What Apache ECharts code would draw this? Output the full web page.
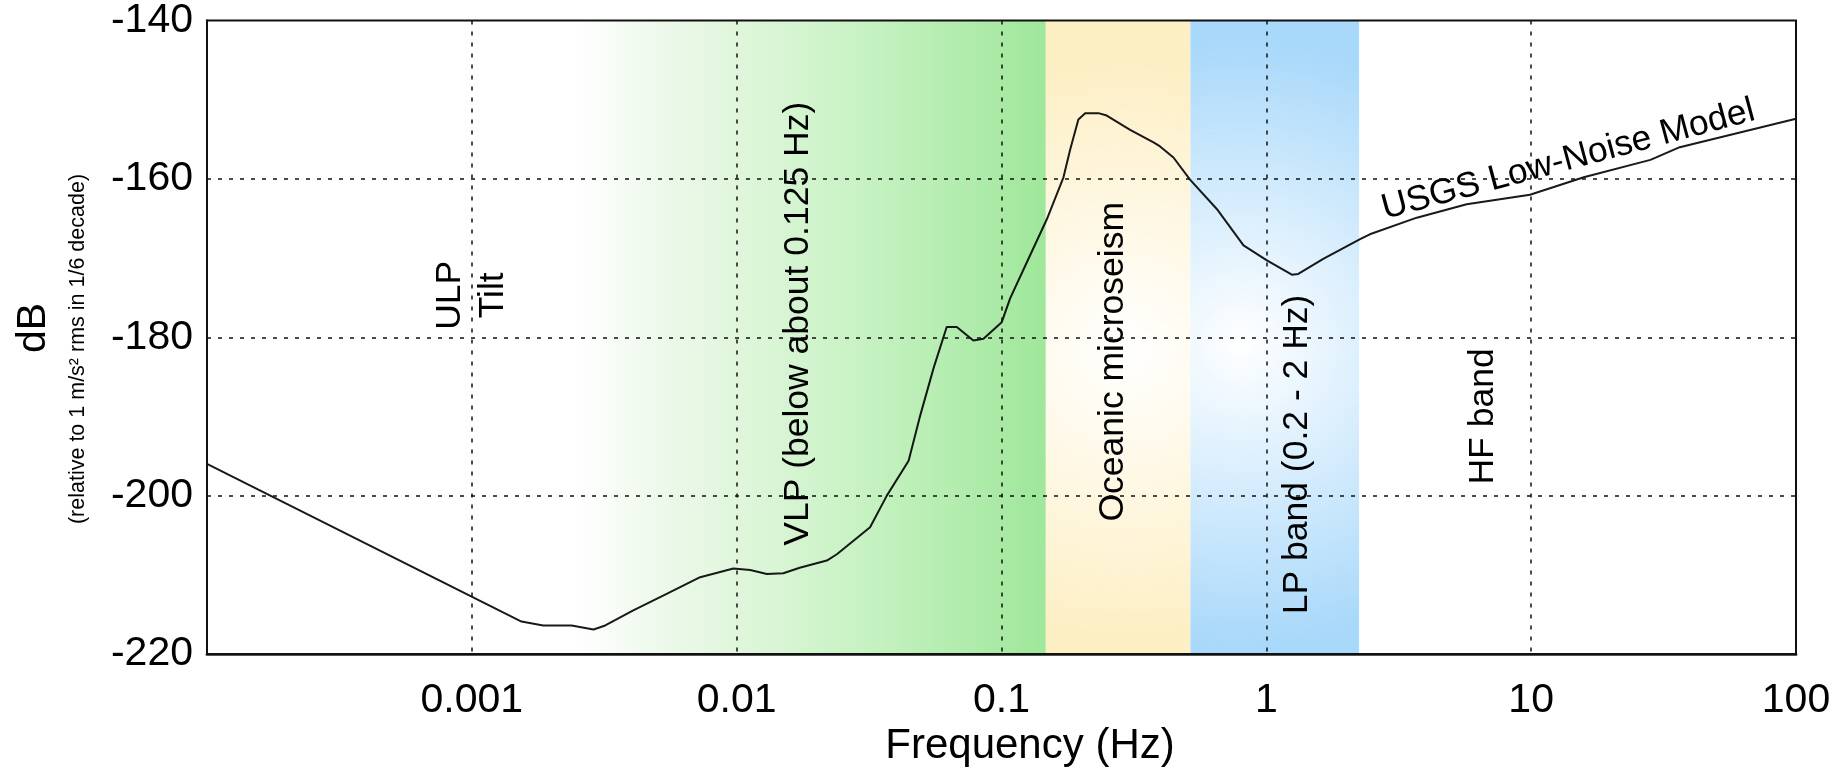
<!DOCTYPE html>
<html>
<head>
<meta charset="utf-8">
<script src="https://cdn.jsdelivr.net/npm/echarts@6/dist/echarts.min.js"></script>
<style>
html,body{margin:0;padding:0;background:#fff;}
#chart{width:1841px;height:771px;}
</style>
</head>
<body>
<div id="chart"></div>
<script>
// ---- data (USGS Low-Noise Model) ----
const freqHz = [0.0001, 0.00154, 0.00186, 0.00238, 0.00288, 0.00319, 0.00407, 0.00544, 0.00728, 0.00972,
  0.01125, 0.0130, 0.0150, 0.0173, 0.0219, 0.0239, 0.0319, 0.0369, 0.0446, 0.0494,
  0.0554, 0.0621, 0.0678, 0.0783, 0.0855, 0.1002, 0.1078, 0.1248, 0.1483, 0.1714,
  0.1817, 0.1951, 0.207, 0.2323, 0.2497, 0.306, 0.375, 0.397, 0.446, 0.515,
  0.650, 0.820, 1.005, 1.248, 1.32, 1.64, 2.26, 2.46, 3.70, 5.71,
  9.9, 15.8, 28.2, 36.4, 100];
const noiseDb = [-196.0, -215.9, -216.4, -216.4, -216.9, -216.4, -214.5, -212.4, -210.3, -209.2,
  -209.4, -209.9, -209.8, -209.1, -208.2, -207.4, -204.0, -200.0, -195.6, -189.8,
  -183.9, -178.7, -178.7, -180.4, -180.2, -178.1, -175.1, -170.5, -165.1, -159.8,
  -156.3, -152.5, -151.7, -151.7, -152.0, -153.8, -155.4, -155.9, -157.3, -160.1,
  -163.8, -168.4, -170.3, -172.1, -172.0, -170.1, -167.6, -167.0, -164.9, -163.2,
  -162.0, -159.8, -157.6, -156.0, -152.4];

const xTickLabels = ['0.001', '0.01', '0.1', '1', '10', '100'];
const yTickValues = [-220, -200, -180, -160, -140];

const bandNames = ['VLP', 'Oceanic microseism', 'LP band'];
const bandStartHz = [0.0025, 0.147, 0.517];
const bandEndHz = [0.147, 0.517, 2.24];

const noteTexts = ['ULP\nTilt', 'VLP (below about 0.125 Hz)', 'Oceanic microseism',
  'LP band (0.2 - 2 Hz)', 'HF band', 'USGS Low-Noise Model'];
const noteFreqHz = [0.001, 0.01706, 0.2636, 1.307, 6.59, 13.8];
const noteDb = [-174.7, -178.3, -183.1, -194.8, -190.0, -157.6];

// ---- styling ----
const FONT = '"Liberation Sans", Arial, Helvetica, sans-serif';
const bandFills = [
  new echarts.graphic.LinearGradient(0, 0, 1, 0, [
    {offset: 0, color: '#ffffff'},
    {offset: 0.17, color: '#eef9ec'},
    {offset: 0.34, color: '#e0f6dc'},
    {offset: 0.60, color: '#c8f2c4'},
    {offset: 0.82, color: '#b2ecad'},
    {offset: 1, color: '#9fe79a'}
  ]),
  new echarts.graphic.RadialGradient(0.56, 0.52, 2.0, [
    {offset: 0, color: '#ffffff'},
    {offset: 1, color: '#fdefc4'}
  ]),
  new echarts.graphic.RadialGradient(0.3, 0.51, 1.8, [
    {offset: 0, color: '#ffffff'},
    {offset: 1, color: '#a8d8fa'}
  ])
];

function fmtTick(v) {
  if (v < 0.00099) return '';
  const s = String(Number(v.toPrecision(6)));
  return xTickLabels.indexOf(s) >= 0 ? s : '';
}

const chart = echarts.init(document.getElementById('chart'), null, {renderer: 'canvas'});
chart.setOption({
  animation: false,
  backgroundColor: '#ffffff',
  grid: {
    left: 207, right: 45, top: 16, bottom: 117,
    show: true, borderColor: '#111', borderWidth: 2,
    backgroundColor: 'transparent', z: 6
  },
  xAxis: {
    type: 'log', logBase: 10, min: 0.0001, max: 100, z: 5,
    axisLine: {show: true, onZero: false, lineStyle: {color: '#555', width: 3}},
    axisTick: {show: false},
    axisLabel: {fontSize: 41, color: '#000', fontFamily: FONT, margin: 26, formatter: fmtTick},
    splitLine: {show: true, showMinLine: false, showMaxLine: false,
      lineStyle: {color: '#111', type: [4, 7], width: 1.5}}
  },
  yAxis: {
    type: 'value', min: yTickValues[0], max: yTickValues[yTickValues.length - 1], interval: 20, z: 5,
    axisLine: {show: true, onZero: false, lineStyle: {color: '#111', width: 2}},
    axisTick: {show: false},
    axisLabel: {fontSize: 41, color: '#000', fontFamily: FONT, margin: 14},
    splitLine: {show: true, showMinLine: false, showMaxLine: false,
      lineStyle: {color: '#111', type: [4, 7], width: 1.5}}
  },
  graphic: [
    {type: 'text', x: 34, y: 328, rotation: Math.PI / 2,
      style: {text: 'dB', fontSize: 41, fontFamily: FONT, fill: '#000', align: 'center', verticalAlign: 'middle'}},
    {type: 'text', x: 78, y: 349, rotation: Math.PI / 2,
      style: {text: '(relative to 1 m/s² rms in 1/6 decade)', fontSize: 21.5, fontFamily: FONT, fill: '#000', align: 'center', verticalAlign: 'middle'}},
    {type: 'text', x: 1030, y: 746,
      style: {text: 'Frequency (Hz)', fontSize: 42, fontFamily: FONT, fill: '#000', align: 'center', verticalAlign: 'middle'}}
  ],
  series: [
    {
      name: 'USGS Low-Noise Model',
      type: 'line',
      data: freqHz.map((f, i) => [f, noiseDb[i]]),
      showSymbol: false,
      symbol: 'none',
      z: 3,
      lineStyle: {color: '#000', width: 2, opacity: 0.9},
      markArea: {
        silent: true,
        z: 1,
        label: {show: false},
        data: bandNames.map((n, i) => [
          {name: n, xAxis: bandStartHz[i], itemStyle: {color: bandFills[i], opacity: 1}},
          {xAxis: bandEndHz[i]}
        ])
      }
    },
    {
      name: 'notes',
      type: 'scatter',
      silent: true,
      z: 4,
      symbolSize: 0.1,
      itemStyle: {color: 'rgba(0,0,0,0)', opacity: 1},
      data: noteTexts.map((t, i) => ({
        value: [noteFreqHz[i], noteDb[i]],
        label: {formatter: t, rotate: i === noteTexts.length - 1 ? 15 : 90}
      })),
      label: {
        show: true, position: 'inside', fontSize: 35.5, color: '#000', opacity: 1,
        textBorderWidth: 0, fontFamily: FONT,
        lineHeight: 43, align: 'center', verticalAlign: 'middle'
      }
    }
  ]
});
</script>
</body>
</html>
